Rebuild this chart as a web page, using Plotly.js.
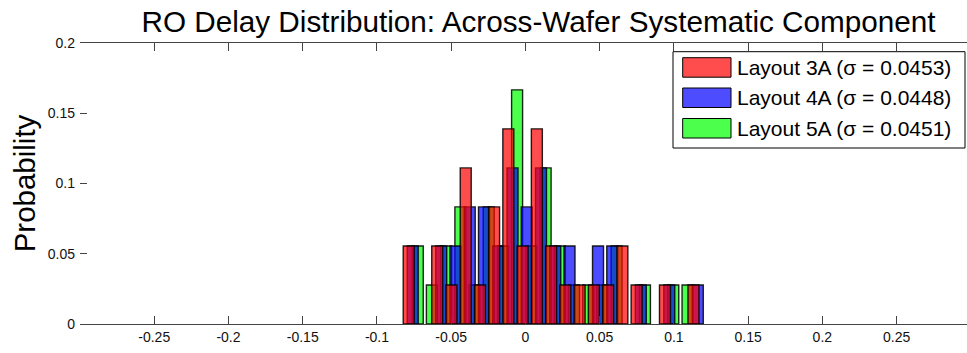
<!DOCTYPE html>
<html>
<head>
<meta charset="utf-8">
<script src="https://cdn.plot.ly/plotly-3.0.1.min.js"></script>
<style>
  html, body { margin: 0; padding: 0; background: #ffffff; overflow: hidden; }
  #chart { width: 967px; height: 353px; }
</style>
</head>
<body>
<div id="chart"></div>
<script>
// Histogram bin centres (normalised RO delay) and sample counts per layout.
// Each layout has 36 ring oscillators; probability = count / 36.
const sampleCount = 36;

const layout3ACenters = [-0.0786, -0.0690, -0.0594, -0.0498, -0.0402, -0.0306, -0.0211,
                         -0.0115, -0.0019, 0.0077, 0.0173, 0.0269, 0.0365, 0.0461,
                         0.0557, 0.0653, 0.0749, 0.0845, 0.0940, 0.1036, 0.1132];
const layout3ACounts  = [2, 0, 2, 1, 4, 1, 3, 5, 2, 5, 2, 1, 1, 1, 1, 2, 1, 0, 1, 0, 1];

const layout4ACenters = [-0.0759, -0.0663, -0.0567, -0.0471, -0.0375, -0.0279, -0.0183,
                         -0.0087, 0.0009, 0.0105, 0.0201, 0.0297, 0.0393, 0.0489,
                         0.0585, 0.0681, 0.0777, 0.0873, 0.0969, 0.1065, 0.1161];
const layout4ACounts  = [2, 0, 2, 2, 3, 3, 2, 4, 3, 4, 2, 2, 0, 2, 2, 0, 1, 0, 1, 0, 1];

const layout5ACenters = [-0.0725, -0.0630, -0.0534, -0.0438, -0.0343, -0.0247, -0.0151,
                         -0.0056, 0.0040, 0.0136, 0.0231, 0.0327, 0.0423, 0.0518,
                         0.0614, 0.0709, 0.0805, 0.0901, 0.0996, 0.1092, 0.1188];
const layout5ACounts  = [2, 1, 2, 3, 1, 3, 2, 6, 2, 4, 2, 1, 1, 1, 2, 0, 1, 0, 1, 1, 0];

const seriesNames = ['Layout 3A (\u03c3 = 0.0453)', 'Layout 4A (\u03c3 = 0.0448)', 'Layout 5A (\u03c3 = 0.0451)'];

const xTickVals = [-0.25, -0.2, -0.15, -0.1, -0.05, 0, 0.05, 0.1, 0.15, 0.2, 0.25];
const xTickText = ['-0.25', '-0.2', '-0.15', '-0.1', '-0.05', '0', '0.05', '0.1', '0.15', '0.2', '0.25'];
const yTickVals = [0, 0.05, 0.1, 0.15, 0.2];
const yTickText = ['0', '0.05', '0.1', '0.15', '0.2'];

// ---- styling ----
const FONT = 'Liberation Sans, Arial, Helvetica, sans-serif';
const fills = {
  red:   'rgba(255,0,0,0.7)',
  blue:  'rgba(0,0,255,0.7)',
  green: 'rgba(0,255,0,0.7)'
};
const swatchFills = ['rgb(255,77,77)', 'rgb(77,77,255)', 'rgb(77,255,77)'];
const barWidth = 0.0074;

function histTrace(centers, counts, fill, name) {
  const x = [], y = [];
  centers.forEach((c, i) => {
    if (counts[i] > 0) { x.push(c); y.push(counts[i] / sampleCount); }
  });
  return {
    type: 'bar', name: name, x: x, y: y, width: barWidth,
    marker: { color: fill, line: { color: 'rgba(0,0,0,0.85)', width: 1.4 } },
    showlegend: false, hoverinfo: 'x+y'
  };
}

// drawn back to front: 5A, 4A, 3A
const traces = [
  histTrace(layout5ACenters, layout5ACounts, fills.green, seriesNames[2]),
  histTrace(layout4ACenters, layout4ACounts, fills.blue,  seriesNames[1]),
  histTrace(layout3ACenters, layout3ACounts, fills.red,   seriesNames[0])
];

// plot area geometry (pixels) used to place the boxed key
const W = 967, H = 353;
const M = { l: 80, r: 0, t: 43, b: 29 };
const PW = W - M.l - M.r, PH = H - M.t - M.b;
const px = v => (v - M.l) / PW;
const py = v => (H - M.b - v) / PH;

const shapes = [
  { type: 'rect', xref: 'paper', yref: 'paper',
    x0: px(673), x1: px(965), y0: py(148), y1: py(51.7),
    fillcolor: '#ffffff', line: { color: '#000000', width: 1 }, layer: 'above' }
];
const annotations = [];
const rowTops = [57.7, 88, 118.5];
const rowH = 19.5;
rowTops.forEach((t, i) => {
  shapes.push({ type: 'rect', xref: 'paper', yref: 'paper',
    x0: px(682.7), x1: px(731), y0: py(t + rowH), y1: py(t),
    fillcolor: swatchFills[i], line: { color: '#000000', width: 1 }, layer: 'above' });
  annotations.push({ xref: 'paper', yref: 'paper', x: px(735), y: py(t + rowH / 2),
    xanchor: 'left', yanchor: 'middle', showarrow: false, text: seriesNames[i],
    font: { family: FONT, size: 21, color: '#000000' } });
});

const layout = {
  width: W, height: H,
  margin: M,
  paper_bgcolor: '#ffffff', plot_bgcolor: '#ffffff',
  barmode: 'overlay',
  showlegend: false,
  font: { family: FONT, color: '#111111' },
  title: {
    text: 'RO Delay Distribution: Across-Wafer Systematic Component',
    font: { family: FONT, size: 29.7, color: '#000000' },
    xref: 'container', yref: 'container',
    x: 538.5 / W, xanchor: 'center',
    y: 1 - 21.5 / H, yanchor: 'middle'
  },
  xaxis: {
    range: [-0.3, -0.3 + PW / 1484.7],
    tickvals: xTickVals, ticktext: xTickText,
    ticks: 'inside', ticklen: 8, tickwidth: 1, tickcolor: '#444444',
    showline: true, linecolor: '#444444', linewidth: 1, mirror: 'ticks',
    showgrid: false, zeroline: false,
    tickfont: { family: FONT, size: 14, color: '#111111' }
  },
  yaxis: {
    range: [0, 0.2],
    tickvals: yTickVals, ticktext: yTickText,
    ticks: 'inside', ticklen: 7, tickwidth: 1, tickcolor: '#444444',
    ticklabelstandoff: 4,
    showline: false, showgrid: false, zeroline: false,
    tickfont: { family: FONT, size: 14, color: '#111111' },
    title: { text: 'Probability', font: { family: FONT, size: 29.5, color: '#000000' }, standoff: 3 }
  },
  shapes: shapes,
  annotations: annotations
};

Plotly.newPlot('chart', traces, layout, { displayModeBar: false, staticPlot: true });
</script>
</body>
</html>
